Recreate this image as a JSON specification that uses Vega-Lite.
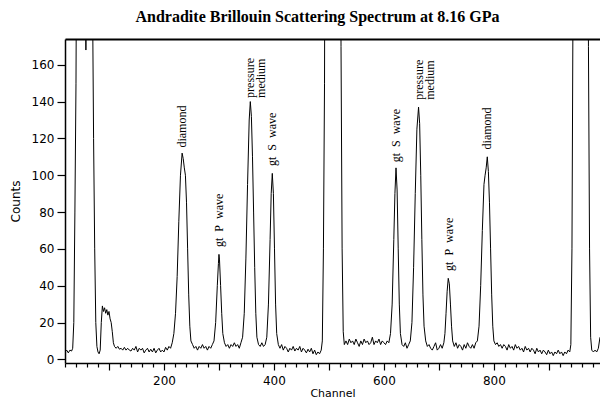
{
  "$schema": "https://vega.github.io/schema/vega-lite/v6.json",
  "width": 535,
  "height": 324,
  "autosize": {"type": "none"},
  "padding": {"left": 65, "top": 39, "right": 0, "bottom": 39},
  "background": "white",
  "config": {"view": {"stroke": null}},
  "title": {"text": "Andradite Brillouin Scattering Spectrum at 8.16 GPa", "font": "Liberation Serif", "fontSize": 16, "fontWeight": "bold", "color": "black", "offset": 14, "anchor": "middle", "dx": -15},
  "datasets": {
    "spectrum": [
      {"channel":20,"counts":4},{"channel":23,"counts":5},{"channel":26,"counts":3.5},{"channel":29,"counts":5},{"channel":32,"counts":4.5},{"channel":34,"counts":6},{"channel":36,"counts":20},{"channel":38,"counts":80},{"channel":40,"counts":150},{"channel":42,"counts":300},{"channel":46,"counts":500},{"channel":52,"counts":600},{"channel":55,"counts":400},{"channel":58,"counts":168},{"channel":61,"counts":400},{"channel":64,"counts":600},{"channel":68,"counts":400},{"channel":70,"counts":200},{"channel":72,"counts":120},{"channel":74,"counts":60},{"channel":76,"counts":20},{"channel":78,"counts":7},{"channel":80,"counts":4},{"channel":82,"counts":3},{"channel":84,"counts":5},{"channel":86,"counts":20},{"channel":88,"counts":29},{"channel":90,"counts":26},{"channel":92,"counts":28},{"channel":94,"counts":25},{"channel":96,"counts":27},{"channel":98,"counts":24},{"channel":100,"counts":26},{"channel":102,"counts":22},{"channel":104,"counts":20},{"channel":106,"counts":15},{"channel":108,"counts":9},{"channel":110,"counts":7},{"channel":113,"counts":6},{"channel":116,"counts":7},{"channel":119,"counts":5.5},{"channel":122,"counts":6},{"channel":125,"counts":5},{"channel":128,"counts":6.5},{"channel":131,"counts":5},{"channel":134,"counts":6},{"channel":137,"counts":5},{"channel":140,"counts":4.5},{"channel":143,"counts":6},{"channel":146,"counts":5},{"channel":149,"counts":7},{"channel":152,"counts":4},{"channel":155,"counts":6},{"channel":158,"counts":5},{"channel":161,"counts":6},{"channel":164,"counts":3.5},{"channel":167,"counts":5},{"channel":170,"counts":6},{"channel":173,"counts":4},{"channel":176,"counts":5.5},{"channel":179,"counts":4},{"channel":182,"counts":6},{"channel":185,"counts":3.5},{"channel":188,"counts":5},{"channel":191,"counts":6},{"channel":194,"counts":4},{"channel":197,"counts":5},{"channel":200,"counts":4},{"channel":203,"counts":6.5},{"channel":206,"counts":5},{"channel":209,"counts":7},{"channel":212,"counts":6},{"channel":215,"counts":9},{"channel":218,"counts":14},{"channel":221,"counts":25},{"channel":224,"counts":45},{"channel":227,"counts":75},{"channel":230,"counts":100},{"channel":233,"counts":112},{"channel":235,"counts":109},{"channel":237,"counts":104},{"channel":239,"counts":100},{"channel":241,"counts":85},{"channel":243,"counts":60},{"channel":245,"counts":35},{"channel":247,"counts":18},{"channel":249,"counts":10},{"channel":252,"counts":8},{"channel":255,"counts":6},{"channel":258,"counts":7},{"channel":261,"counts":5},{"channel":264,"counts":7},{"channel":267,"counts":6},{"channel":270,"counts":8},{"channel":273,"counts":6},{"channel":276,"counts":7},{"channel":279,"counts":5},{"channel":282,"counts":7},{"channel":285,"counts":6},{"channel":288,"counts":8},{"channel":291,"counts":10},{"channel":294,"counts":20},{"channel":297,"counts":40},{"channel":299,"counts":52},{"channel":300,"counts":57},{"channel":301,"counts":54},{"channel":303,"counts":40},{"channel":305,"counts":25},{"channel":307,"counts":14},{"channel":310,"counts":9},{"channel":313,"counts":7},{"channel":316,"counts":8},{"channel":319,"counts":6},{"channel":322,"counts":8},{"channel":325,"counts":7},{"channel":328,"counts":9},{"channel":331,"counts":7},{"channel":334,"counts":8},{"channel":337,"counts":6},{"channel":340,"counts":9},{"channel":343,"counts":12},{"channel":346,"counts":25},{"channel":349,"counts":55},{"channel":352,"counts":95},{"channel":355,"counts":130},{"channel":357,"counts":140},{"channel":359,"counts":132},{"channel":361,"counts":110},{"channel":363,"counts":80},{"channel":365,"counts":50},{"channel":367,"counts":25},{"channel":369,"counts":12},{"channel":372,"counts":8},{"channel":375,"counts":7},{"channel":378,"counts":9},{"channel":381,"counts":7},{"channel":384,"counts":8},{"channel":387,"counts":12},{"channel":390,"counts":30},{"channel":393,"counts":65},{"channel":395,"counts":90},{"channel":397,"counts":101},{"channel":399,"counts":90},{"channel":401,"counts":60},{"channel":403,"counts":30},{"channel":405,"counts":14},{"channel":408,"counts":8},{"channel":411,"counts":6},{"channel":414,"counts":8},{"channel":417,"counts":5},{"channel":420,"counts":7},{"channel":423,"counts":6},{"channel":426,"counts":4},{"channel":429,"counts":6},{"channel":432,"counts":5},{"channel":435,"counts":7},{"channel":438,"counts":4.5},{"channel":441,"counts":6},{"channel":444,"counts":5},{"channel":447,"counts":7},{"channel":450,"counts":4},{"channel":453,"counts":6},{"channel":456,"counts":5},{"channel":459,"counts":3.5},{"channel":462,"counts":5.5},{"channel":465,"counts":4},{"channel":468,"counts":6},{"channel":471,"counts":3},{"channel":474,"counts":5},{"channel":477,"counts":2.5},{"channel":480,"counts":4},{"channel":483,"counts":3},{"channel":486,"counts":5},{"channel":488,"counts":10},{"channel":490,"counts":60},{"channel":492,"counts":150},{"channel":494,"counts":400},{"channel":500,"counts":700},{"channel":515,"counts":700},{"channel":520,"counts":300},{"channel":522,"counts":170},{"channel":524,"counts":60},{"channel":526,"counts":15},{"channel":528,"counts":8},{"channel":531,"counts":10},{"channel":534,"counts":8},{"channel":537,"counts":11},{"channel":540,"counts":9},{"channel":543,"counts":10},{"channel":546,"counts":8},{"channel":549,"counts":11},{"channel":552,"counts":9},{"channel":555,"counts":7},{"channel":558,"counts":10},{"channel":561,"counts":8},{"channel":564,"counts":11},{"channel":567,"counts":9},{"channel":570,"counts":10},{"channel":573,"counts":8},{"channel":576,"counts":9},{"channel":579,"counts":12},{"channel":582,"counts":8},{"channel":585,"counts":10},{"channel":588,"counts":9},{"channel":591,"counts":11},{"channel":594,"counts":8},{"channel":597,"counts":10},{"channel":600,"counts":9},{"channel":603,"counts":8},{"channel":606,"counts":10},{"channel":609,"counts":9},{"channel":612,"counts":14},{"channel":615,"counts":30},{"channel":618,"counts":65},{"channel":620,"counts":90},{"channel":622,"counts":104},{"channel":624,"counts":92},{"channel":626,"counts":60},{"channel":628,"counts":30},{"channel":630,"counts":14},{"channel":633,"counts":8},{"channel":636,"counts":7},{"channel":639,"counts":9},{"channel":642,"counts":6},{"channel":645,"counts":8},{"channel":648,"counts":10},{"channel":651,"counts":20},{"channel":654,"counts":50},{"channel":657,"counts":90},{"channel":660,"counts":125},{"channel":663,"counts":137},{"channel":665,"counts":128},{"channel":667,"counts":100},{"channel":669,"counts":65},{"channel":671,"counts":35},{"channel":673,"counts":18},{"channel":676,"counts":10},{"channel":679,"counts":7},{"channel":682,"counts":8},{"channel":685,"counts":6},{"channel":688,"counts":5},{"channel":691,"counts":7},{"channel":694,"counts":9},{"channel":697,"counts":5},{"channel":700,"counts":6},{"channel":703,"counts":8},{"channel":706,"counts":6},{"channel":709,"counts":9},{"channel":711,"counts":14},{"channel":713,"counts":25},{"channel":715,"counts":37},{"channel":717,"counts":44},{"channel":719,"counts":41},{"channel":721,"counts":30},{"channel":723,"counts":18},{"channel":725,"counts":10},{"channel":728,"counts":7},{"channel":731,"counts":9},{"channel":734,"counts":6},{"channel":737,"counts":8},{"channel":740,"counts":7},{"channel":743,"counts":5},{"channel":746,"counts":8},{"channel":749,"counts":6},{"channel":752,"counts":9},{"channel":755,"counts":7},{"channel":758,"counts":6},{"channel":761,"counts":8},{"channel":764,"counts":6},{"channel":767,"counts":9},{"channel":770,"counts":10},{"channel":773,"counts":18},{"channel":776,"counts":40},{"channel":779,"counts":70},{"channel":782,"counts":95},{"channel":784,"counts":100},{"channel":786,"counts":104},{"channel":788,"counts":110},{"channel":790,"counts":102},{"channel":792,"counts":85},{"channel":794,"counts":60},{"channel":796,"counts":35},{"channel":798,"counts":18},{"channel":800,"counts":10},{"channel":803,"counts":8},{"channel":806,"counts":9},{"channel":809,"counts":7},{"channel":812,"counts":8},{"channel":815,"counts":6},{"channel":818,"counts":8},{"channel":821,"counts":7},{"channel":824,"counts":5},{"channel":827,"counts":8},{"channel":830,"counts":6},{"channel":833,"counts":7},{"channel":836,"counts":5},{"channel":839,"counts":8},{"channel":842,"counts":6},{"channel":845,"counts":7},{"channel":848,"counts":5},{"channel":851,"counts":6},{"channel":854,"counts":4},{"channel":857,"counts":7},{"channel":860,"counts":5},{"channel":863,"counts":6},{"channel":866,"counts":4},{"channel":869,"counts":6},{"channel":872,"counts":5},{"channel":875,"counts":3},{"channel":878,"counts":6},{"channel":881,"counts":4},{"channel":884,"counts":5},{"channel":887,"counts":3},{"channel":890,"counts":5},{"channel":893,"counts":4},{"channel":896,"counts":2.5},{"channel":899,"counts":5},{"channel":902,"counts":3},{"channel":905,"counts":4},{"channel":908,"counts":2},{"channel":911,"counts":4},{"channel":914,"counts":3},{"channel":917,"counts":5},{"channel":920,"counts":3},{"channel":923,"counts":4},{"channel":926,"counts":2},{"channel":929,"counts":4},{"channel":932,"counts":3},{"channel":935,"counts":5},{"channel":938,"counts":4},{"channel":940,"counts":8},{"channel":942,"counts":60},{"channel":944,"counts":200},{"channel":948,"counts":500},{"channel":960,"counts":600},{"channel":970,"counts":300},{"channel":972,"counts":170},{"channel":974,"counts":60},{"channel":976,"counts":12},{"channel":978,"counts":5},{"channel":981,"counts":4},{"channel":984,"counts":5},{"channel":987,"counts":4},{"channel":990,"counts":6},{"channel":993,"counts":12}
    ],
    "labels": [
      {"channel":233,"counts":115,"label":"diamond"},
      {"channel":300,"counts":61,"label":"gt\u00a0\u00a0P\u00a0\u00a0wave"},
      {"channel":357,"counts":142,"label":"pressure\nmedium"},
      {"channel":397,"counts":105,"label":"gt\u00a0\u00a0S\u00a0\u00a0wave"},
      {"channel":622,"counts":107,"label":"gt\u00a0\u00a0S\u00a0\u00a0wave"},
      {"channel":663,"counts":141,"label":"pressure\nmedium"},
      {"channel":718,"counts":48,"label":"gt\u00a0\u00a0P\u00a0\u00a0wave"},
      {"channel":788,"counts":114,"label":"diamond"}
    ]
  },
  "layer": [
    {
      "data": {"name": "spectrum"},
      "mark": {"type": "line", "color": "black", "strokeWidth": 1, "clip": true},
      "encoding": {
        "x": {"field": "channel", "type": "quantitative",
          "scale": {"domain": [20, 993], "nice": false, "zero": false},
          "axis": {"values": [20,40,60,80,100,120,140,160,180,200,220,240,260,280,300,320,340,360,380,400,420,440,460,480,500,520,540,560,580,600,620,640,660,680,700,720,740,760,780,800,820,840,860,880,900,920,940,960,980],
            "labelExpr": "datum.value % 200 === 0 ? datum.label : ''",
            "tickSize": {"condition": {"test": "datum.value % 100 === 0", "value": 7}, "value": 4},
            "grid": false, "title": "Channel", "titleFont": "DejaVu Sans", "titleFontSize": 11, "titleFontWeight": "normal", "titleColor": "black",
            "labelFont": "DejaVu Sans", "labelFontSize": 12, "labelColor": "black", "tickColor": "black", "domainColor": "black", "domainWidth": 1.5, "tickWidth": 1.2,
            "labelPadding": 5, "titlePadding": 1, "labelFlush": false, "labelOverlap": false}},
        "y": {"field": "counts", "type": "quantitative",
          "scale": {"domain": [-2, 174], "nice": false, "zero": false},
          "axis": {"values": [0,20,40,60,80,100,120,140,160], "tickSize": 8, "labelPadding": 3, "grid": false,
            "title": "Counts", "titleFont": "DejaVu Sans", "titleFontSize": 12, "titleFontWeight": "normal", "titleColor": "black", "titlePadding": 9,
            "labelFont": "DejaVu Sans", "labelFontSize": 12, "labelColor": "black", "tickColor": "black", "domainColor": "black", "domainWidth": 1.5, "tickWidth": 1.2}}
      }
    },
    {
      "data": {"name": "labels"},
      "mark": {"type": "text", "angle": 270, "align": "left", "baseline": "middle", "font": "Liberation Serif", "fontSize": 12, "lineBreak": "\n", "lineHeight": 11, "color": "black"},
      "encoding": {
        "x": {"field": "channel", "type": "quantitative",
          "axis": {"orient": "top", "labels": false, "ticks": false, "title": null, "grid": false, "domainColor": "black", "domainWidth": 2}},
        "y": {"field": "counts", "type": "quantitative"},
        "text": {"field": "label"}
      }
    }
  ],
  "resolve": {"axis": {"x": "independent"}}
}
